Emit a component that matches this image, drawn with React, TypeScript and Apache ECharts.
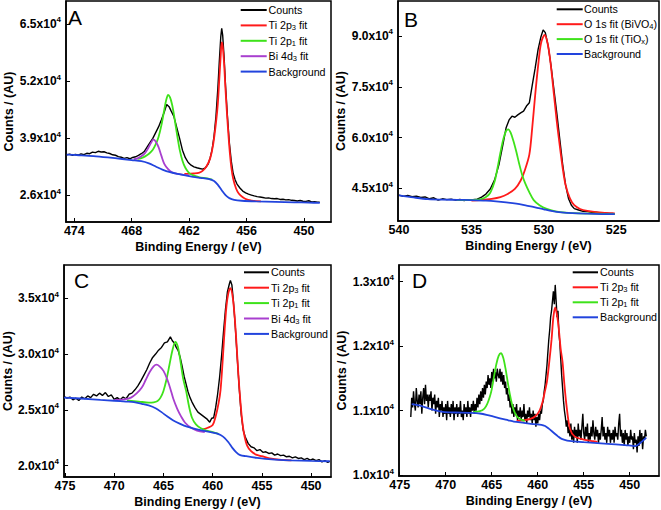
import React, { useEffect, useRef } from 'react';
import * as echarts from 'echarts';

const FONT = 'Arial, "Liberation Sans", Helvetica, sans-serif';
const C_COUNTS = '#000000';
const C_P3 = '#ff1a1a';
const C_P1 = '#3ee21a';
const C_BI = '#a83fcf';
const C_BG = '#2244dd';

// ---------- tick values ----------
const xTicksA = [474, 468, 462, 456, 450];
const yTicksA = [26000, 39000, 52000, 65000];
const xTicksB = [540, 535, 530, 525];
const yTicksB = [45000, 60000, 75000, 90000];
const xTicksC = [475, 470, 465, 460, 455, 450];
const yTicksC = [20000, 25000, 30000, 35000];
const xTicksD = [475, 470, 465, 460, 455, 450];
const yTicksD = [10000, 11000, 12000, 13000];

// ---------- legend entries ----------
const legendA = ['Counts', 'Ti 2p3 fit', 'Ti 2p1 fit', 'Bi 4d3 fit', 'Background'];
const legendB = ['Counts', 'O 1s fit (BiVO4)', 'O 1s fit (TiOx)', 'Background'];
const legendC = ['Counts', 'Ti 2p3 fit', 'Ti 2p1 fit', 'Bi 4d3 fit', 'Background'];
const legendD = ['Counts', 'Ti 2p3 fit', 'Ti 2p1 fit', 'Background'];

// ---------- Panel A ----------
const countsA = [[474.8,35250],[474.5,35400],[474.2,35150],[473.9,35350],[473.6,35200],[473.3,35450],[473.0,35300],[472.7,35600],[472.4,35500],[472.1,35850],[471.8,35750],[471.5,36050],[471.2,35900],[470.9,35950],[470.6,35700],[470.3,35550],[470.0,35250],[469.7,35150],[469.4,34850],[469.1,34700],[468.8,34450],[468.5,34600],[468.2,34350],[467.9,34650],[467.6,34800],[467.3,35100],[467.0,35500],[466.7,36000],[466.4,37000],[466.1,38000],[465.8,39000],[465.5,40300],[465.2,41600],[464.9,43200],[464.6,45000],[464.35,46700],[464.1,46200],[463.9,45300],[463.6,44000],[463.3,41500],[463.0,39000],[462.7,36300],[462.4,34600],[462.1,33500],[461.8,32900],[461.5,32500],[461.2,32300],[460.9,32150],[460.6,32000],[460.3,32300],[460.0,33200],[459.8,34600],[459.6,36500],[459.4,39500],[459.2,44000],[459.0,50500],[458.85,56500],[458.7,62000],[458.6,64000],[458.5,62500],[458.35,57500],[458.2,51000],[458.0,44000],[457.8,38000],[457.6,33800],[457.4,31000],[457.2,29600],[457.0,28600],[456.7,27700],[456.4,27000],[456.1,26600],[455.8,26300],[455.5,26100],[455.2,25900],[454.9,25750],[454.6,25650],[454.3,25550],[454.0,25400],[453.7,25450],[453.4,25300],[453.1,25250],[452.8,25300],[452.5,25100],[452.2,25150],[451.9,25000],[451.6,25050],[451.3,24900],[451.0,24850],[450.7,24750],[450.4,24850],[450.1,24700],[449.8,24650],[449.5,24800],[449.2,24550],[448.9,24600],[448.6,24450],[448.35,24500]];
const ti2p3A = [[462.5,30900],[462.0,30950],[461.5,31000],[461.0,31150],[460.6,31600],[460.2,32600],[459.8,34500],[459.5,37500],[459.2,42500],[459.0,47000],[458.85,52500],[458.7,58000],[458.6,60800],[458.5,60000],[458.35,56000],[458.2,50000],[458.0,43000],[457.8,37000],[457.6,32500],[457.4,29800],[457.1,27600],[456.8,26400],[456.4,25600],[456.0,25100],[455.5,24850],[455.0,24700],[454.5,24650]];
const ti2p1A = [[467.4,34300],[467.0,34500],[466.6,34900],[466.2,35500],[465.8,36400],[465.5,37600],[465.2,39300],[464.9,42000],[464.6,45500],[464.4,47700],[464.2,48900],[464.0,48300],[463.8,46800],[463.6,44500],[463.4,41700],[463.2,39000],[463.0,36500],[462.7,33900],[462.4,32300],[462.0,31100],[461.5,30500],[461.0,30200],[460.5,30000],[460.0,29850],[459.6,29600]];
const bi4dA = [[467.8,34250],[467.4,34450],[467.0,34900],[466.6,35700],[466.3,36700],[466.0,37900],[465.75,38700],[465.5,38300],[465.2,37000],[464.9,35000],[464.6,33200],[464.2,32000],[463.8,31300],[463.2,30900],[462.6,30700],[462.0,30550]];
const bgA = [[474.8,35300],[473.5,35150],[472.0,34950],[470.5,34650],[469.0,34300],[468.0,34050],[467.0,33800],[466.2,33300],[465.5,32600],[464.8,31900],[464.0,31300],[463.2,30900],[462.4,30550],[461.6,30250],[460.8,30000],[460.0,29750],[459.4,29300],[459.0,28400],[458.6,27200],[458.2,26100],[457.8,25400],[457.3,25000],[456.5,24800],[455.0,24650],[453.0,24550],[451.0,24450],[449.5,24380],[448.35,24300]];

// ---------- Panel B ----------
const countsB = [[540.0,43000],[539.7,42600],[539.4,42900],[539.1,42500],[538.8,42700],[538.5,42300],[538.2,42450],[537.9,41900],[537.6,42200],[537.3,41500],[537.0,41900],[536.7,41650],[536.4,41800],[536.1,41500],[535.8,41700],[535.5,41400],[535.2,41650],[534.9,41600],[534.6,41800],[534.3,42400],[534.0,43300],[533.7,44800],[533.4,47500],[533.1,52000],[532.8,58500],[532.6,63000],[532.4,65200],[532.2,66300],[532.0,66000],[531.8,66700],[531.6,67300],[531.4,67800],[531.2,69300],[531.0,70300],[530.8,75500],[530.6,80500],[530.4,86000],[530.2,89800],[530.05,91800],[529.9,91000],[529.7,87000],[529.5,81000],[529.3,74000],[529.1,67000],[528.9,59500],[528.7,52000],[528.5,46000],[528.3,42000],[528.1,40000],[527.9,39000],[527.6,38600],[527.3,38200],[527.0,38150],[526.7,37900],[526.4,37950],[526.1,37700],[525.8,37750],[525.5,37600],[525.2,37600]];
const o1sBiVO4B = [[535.0,41400],[534.4,41550],[533.6,41900],[533.0,42400],[532.5,43300],[532.0,44800],[531.6,47300],[531.3,50500],[531.0,55000],[530.8,63000],[530.6,72500],[530.4,81000],[530.2,87800],[529.95,90300],[529.75,88000],[529.55,82500],[529.3,72500],[529.1,64500],[528.9,57500],[528.7,51000],[528.5,46000],[528.2,42000],[527.9,40000],[527.5,38900],[527.0,38300],[526.4,37950],[525.8,37750],[525.1,37600]];
const o1sTiOxB = [[536.0,41500],[535.0,41550],[534.4,41700],[534.0,42400],[533.7,43700],[533.4,47000],[533.2,51000],[533.0,55500],[532.8,59500],[532.6,62000],[532.45,62400],[532.3,61500],[532.1,59000],[531.9,55800],[531.7,52200],[531.5,49000],[531.3,46600],[531.0,43800],[530.7,41500],[530.3,40000],[529.8,38900],[529.2,38200],[528.5,37800],[527.5,37600],[525.1,37400]];
const bgB = [[540.0,42900],[539.0,42300],[538.0,41800],[537.0,41650],[536.0,41600],[535.0,41500],[534.0,41350],[533.3,41150],[532.6,40850],[531.9,40450],[531.2,39900],[530.6,39400],[530.0,38800],[529.4,38250],[528.8,37900],[528.0,37650],[527.0,37500],[526.0,37400],[525.1,37350]];

// ---------- Panel C ----------
const countsC = [[475.1,26200],[474.8,26050],[474.5,26150],[474.2,25900],[473.9,26050],[473.6,25850],[473.3,26150],[473.0,26000],[472.7,26250],[472.4,26100],[472.1,26400],[471.8,26250],[471.5,26500],[471.2,26300],[470.9,26550],[470.6,26200],[470.3,26350],[470.0,25950],[469.7,26100],[469.4,25900],[469.1,26150],[468.8,26000],[468.5,26400],[468.2,26500],[467.9,26800],[467.6,27150],[467.3,27600],[467.0,28100],[466.7,28600],[466.4,29200],[466.1,29700],[465.8,30000],[465.5,30350],[465.2,30600],[464.9,31000],[464.6,31100],[464.3,31550],[464.1,31200],[463.9,31000],[463.7,30600],[463.5,30300],[463.3,29700],[463.1,28900],[462.9,28000],[462.7,27300],[462.5,26600],[462.3,26100],[462.1,25700],[461.8,25200],[461.5,24800],[461.2,24600],[460.9,24400],[460.6,24200],[460.3,23900],[460.1,24250],[459.9,24300],[459.7,25200],[459.5,26400],[459.3,27900],[459.1,29800],[458.9,32000],[458.7,34000],[458.5,35600],[458.3,36300],[458.2,36600],[458.05,36200],[457.9,34800],[457.7,32400],[457.5,29600],[457.3,26900],[457.1,24600],[456.9,23200],[456.7,22600],[456.4,22000],[456.1,21700],[455.8,21600],[455.5,21350],[455.2,21450],[454.9,21200],[454.6,21250],[454.3,21100],[454.0,21150],[453.7,20950],[453.4,21050],[453.1,20900],[452.8,20950],[452.5,20800],[452.2,20850],[451.9,20700],[451.6,20800],[451.3,20650],[451.0,20700],[450.7,20550],[450.4,20650],[450.1,20500],[449.8,20600],[449.5,20450],[449.2,20550],[448.9,20350],[448.6,20450],[448.3,20300],[448.1,20400]];
const ti2p3C = [[461.0,23250],[460.5,23400],[460.0,23650],[459.7,24400],[459.4,25600],[459.2,26800],[459.0,29200],[458.8,32000],[458.6,34300],[458.4,35500],[458.2,35900],[458.0,35300],[457.8,33700],[457.6,31200],[457.4,28300],[457.2,25900],[457.0,24000],[456.8,22800],[456.5,21800],[456.1,21300],[455.6,21000],[455.0,20850],[454.2,20650],[453.0,20520],[452.0,20480]];
const ti2p1C = [[468.7,25850],[467.5,25750],[466.5,25650],[466.0,25680],[465.6,25800],[465.3,26100],[465.0,26700],[464.7,27700],[464.4,29000],[464.1,30300],[463.8,31100],[463.55,30700],[463.3,29500],[463.0,27800],[462.7,26700],[462.4,25300],[462.1,24300],[461.7,23700],[461.2,23350],[460.6,23150],[460.0,23000],[459.4,22850]];
const bi4dC = [[470.0,25900],[469.0,25950],[468.3,26100],[467.7,26500],[467.2,27000],[466.8,27700],[466.4,28400],[466.0,28900],[465.7,29050],[465.4,28900],[465.0,28500],[464.6,27700],[464.3,26900],[464.0,26000],[463.6,25100],[463.2,24400],[462.8,23850],[462.2,23400],[461.6,23150],[460.8,23000]];
const bgC = [[475.1,26100],[473.0,26000],[471.4,25900],[470.0,25820],[468.8,25750],[468.0,25700],[467.2,25550],[466.5,25400],[465.8,25150],[465.2,24800],[464.6,24400],[464.0,24050],[463.3,23750],[462.6,23500],[461.8,23300],[461.0,23150],[460.2,23000],[459.6,22900],[459.2,22750],[458.8,22500],[458.4,22100],[458.0,21600],[457.6,21200],[457.2,20950],[456.6,20850],[455.5,20700],[454.0,20560],[452.0,20480],[450.0,20430],[448.1,20400]];

// ---------- Panel D ----------
const countsD = [[473.8,10900],[473.7,11200],[473.6,11050],[473.5,11300],[473.4,11100],[473.3,11000],[473.2,11350],[473.1,11150],[473.0,11050],[472.9,11250],[472.8,11100],[472.7,11300],[472.6,10950],[472.5,11200],[472.4,11350],[472.3,11100],[472.2,11400],[472.1,11150],[472.0,11250],[471.9,11050],[471.8,11250],[471.7,11150],[471.6,11300],[471.5,11000],[471.4,11200],[471.3,11100],[471.2,11250],[471.1,10950],[471.0,11150],[470.9,11050],[470.8,11200],[470.7,10900],[470.6,11100],[470.5,11000],[470.4,11150],[470.3,10900],[470.2,11050],[470.1,10950],[470.0,11100],[469.9,10850],[469.8,11150],[469.7,10950],[469.6,11050],[469.5,10900],[469.4,11100],[469.3,10950],[469.2,11150],[469.1,10850],[469.0,11050],[468.9,10950],[468.8,11100],[468.7,10900],[468.6,11050],[468.5,10950],[468.4,11150],[468.3,10900],[468.2,11000],[468.1,10850],[468.0,11100],[467.9,10950],[467.8,11050],[467.7,10900],[467.6,11150],[467.5,10950],[467.4,11050],[467.3,10900],[467.2,11100],[467.1,11000],[467.0,11150],[466.9,10950],[466.8,11100],[466.7,11000],[466.6,11200],[466.5,11050],[466.4,11250],[466.3,11100],[466.2,11300],[466.1,11150],[466.0,11350],[465.9,11200],[465.8,11400],[465.7,11250],[465.6,11450],[465.5,11350],[465.4,11550],[465.3,11400],[465.2,11500],[465.1,11350],[465.0,11600],[464.9,11450],[464.8,11650],[464.7,11500],[464.6,11600],[464.5,11450],[464.4,11650],[464.3,11550],[464.2,11500],[464.1,11650],[464.0,11450],[463.9,11600],[463.8,11400],[463.7,11550],[463.6,11350],[463.5,11450],[463.4,11250],[463.3,11350],[463.2,11150],[463.1,11250],[463.0,11050],[462.9,11150],[462.8,10950],[462.7,11100],[462.6,10900],[462.5,11050],[462.4,10950],[462.3,11100],[462.2,10850],[462.1,11000],[462.0,10900],[461.9,11050],[461.8,10850],[461.7,11000],[461.6,10900],[461.5,11100],[461.4,10850],[461.3,10950],[461.2,10800],[461.1,11000],[461.0,10900],[460.9,11050],[460.8,10850],[460.7,10950],[460.6,10800],[460.5,11000],[460.4,10850],[460.3,10950],[460.2,10750],[460.1,10900],[460.0,10800],[459.9,10950],[459.8,10850],[459.7,11000],[459.6,10950],[459.5,11100],[459.4,11150],[459.3,11300],[459.2,11400],[459.1,11550],[459.0,11700],[458.9,11900],[458.8,12100],[458.7,12250],[458.6,12450],[458.5,12550],[458.4,12700],[458.3,12850],[458.2,12650],[458.1,12950],[458.0,12700],[457.9,12450],[457.8,12550],[457.7,12200],[457.6,12050],[457.5,11800],[457.4,11550],[457.3,11350],[457.2,11150],[457.1,11000],[457.0,10900],[456.9,10750],[456.8,10850],[456.7,10650],[456.6,10750],[456.5,10600],[456.4,10800],[456.3,10550],[456.2,10700],[456.1,10500],[456.0,10750],[455.9,10600],[455.8,10700],[455.7,10500],[455.6,10800],[455.5,10600],[455.4,10700],[455.3,10550],[455.2,10750],[455.1,10950],[455.0,10650],[454.9,10550],[454.8,10750],[454.7,10600],[454.6,10800],[454.5,10500],[454.4,10650],[454.3,10550],[454.2,10750],[454.1,10600],[454.0,10850],[453.9,10650],[453.8,10550],[453.7,10750],[453.6,10600],[453.5,10700],[453.4,10500],[453.3,10650],[453.2,10550],[453.1,10700],[453.0,10900],[452.9,10600],[452.8,10750],[452.7,10550],[452.6,10650],[452.5,10500],[452.4,10750],[452.3,10600],[452.2,10700],[452.1,10500],[452.0,10650],[451.9,10550],[451.8,10700],[451.7,10500],[451.6,10750],[451.5,10600],[451.4,10650],[451.3,10550],[451.2,10800],[451.1,10950],[451.0,10600],[450.9,10700],[450.8,10500],[450.7,10650],[450.6,10450],[450.5,10700],[450.4,10550],[450.3,10650],[450.2,10450],[450.1,10600],[450.0,10500],[449.9,10700],[449.8,10550],[449.7,10600],[449.6,10400],[449.5,10650],[449.4,10500],[449.3,10550],[449.2,10350],[449.1,10600],[449.0,10450],[448.9,10700],[448.8,10500],[448.7,10650],[448.6,10400],[448.5,10600],[448.4,10550],[448.3,10700],[448.2,10600]];
const ti2p3D = [[462.3,10840],[461.5,10850],[460.8,10870],[460.2,10920],[459.8,11000],[459.5,11120],[459.25,11280],[459.0,11450],[458.75,11750],[458.5,12100],[458.3,12450],[458.1,12600],[457.9,12480],[457.7,12250],[457.5,11950],[457.3,11750],[457.1,11400],[456.85,11050],[456.5,10720],[456.0,10600],[455.0,10550],[454.0,10525],[453.5,10515]];
const ti2p1D = [[467.0,10980],[466.3,10990],[465.8,11030],[465.5,11100],[465.2,11220],[465.0,11330],[464.75,11530],[464.5,11720],[464.25,11850],[464.0,11890],[463.75,11820],[463.5,11650],[463.25,11430],[463.0,11230],[462.75,11070],[462.5,10970],[462.2,10900],[461.8,10860],[461.4,10840]];
const bgD = [[473.7,11100],[472.6,11070],[471.5,11020],[470.3,10980],[469.0,10970],[467.5,10965],[466.3,10955],[465.2,10920],[464.1,10880],[463.2,10850],[462.6,10830],[461.5,10810],[460.5,10790],[459.6,10780],[459.2,10760],[458.8,10720],[458.3,10660],[457.8,10600],[457.4,10560],[456.8,10535],[456.3,10525],[455.0,10510],[453.5,10495],[452.0,10480],[450.5,10465],[449.4,10450],[449.0,10480],[448.6,10530],[448.2,10580]];

const LEGEND_RICH: Record<string, string> = {
  'Counts': '{t|Counts}',
  'Ti 2p3 fit': '{t|Ti 2p}{s|3}{t| fit}',
  'Ti 2p1 fit': '{t|Ti 2p}{s|1}{t| fit}',
  'Bi 4d3 fit': '{t|Bi 4d}{s|3}{t| fit}',
  'Background': '{t|Background}',
  'O 1s fit (BiVO4)': '{t|O 1s fit (BiVO}{s|4}{t|)}',
  'O 1s fit (TiOx)': '{t|O 1s fit (TiO}{s|x}{t|)}',
};
const LEGEND_COLOR: Record<string, string> = {
  'Counts': C_COUNTS, 'Ti 2p3 fit': C_P3, 'Ti 2p1 fit': C_P1, 'Bi 4d3 fit': C_BI,
  'Background': C_BG, 'O 1s fit (BiVO4)': C_P3, 'O 1s fit (TiOx)': C_P1,
};

function xAx(gi: number, min: number, max: number, ticks: number[], showTicks = true) {
  return {
    type: 'value', gridIndex: gi, min, max, inverse: true, position: 'bottom',
    name: 'Binding Energy / (eV)', nameLocation: 'middle', nameGap: 18,
    nameTextStyle: { fontFamily: FONT, fontSize: 12.5, fontWeight: 'bold', color: '#000' },
    axisLine: { onZero: false, lineStyle: { color: '#000', width: 1.5 } },
    axisTick: { show: showTicks, inside: true, length: 4, customValues: ticks, lineStyle: { color: '#000', width: 1 } },
    axisLabel: { customValues: ticks, margin: 2, fontFamily: FONT, fontSize: 12.5, fontWeight: 'bold', color: '#000', formatter: (v: number) => String(v) },
    splitLine: { show: false },
  };
}

function yAx(gi: number, min: number, max: number, ticks: number[], nameGap: number) {
  return {
    type: 'value', gridIndex: gi, min, max, position: 'left',
    name: 'Counts / (AU)', nameLocation: 'middle', nameGap,
    nameTextStyle: { fontFamily: FONT, fontSize: 12.5, fontWeight: 'bold', color: '#000' },
    axisLine: { onZero: false, lineStyle: { color: '#000', width: 1.5 } },
    axisTick: { show: true, inside: true, length: 4, customValues: ticks, lineStyle: { color: '#000', width: 1 } },
    axisLabel: {
      customValues: ticks, margin: 5, color: '#000',
      formatter: (v: number) => `{n|${(v / 10000).toFixed(1)}x10}{p|4}`,
      rich: {
        n: { fontFamily: FONT, fontSize: 12, fontWeight: 'bold', color: '#000' },
        p: { fontFamily: FONT, fontSize: 8, fontWeight: 'bold', color: '#000', padding: [0, 0, 8, 0] },
      },
    },
    splitLine: { show: false },
  };
}

function line(name: string, data: number[][], color: string, idx: number, fit: boolean) {
  return {
    type: 'line', name, data, xAxisIndex: idx, yAxisIndex: idx,
    symbol: 'none', showSymbol: false, smooth: fit ? 0.3 : false,
    lineStyle: { color, width: fit ? 1.8 : 1.4 },
    itemStyle: { color },
    silent: true, z: 2,
  };
}

// legend drawn as graphic line + rich text per row
function legendG(x1: number, x2: number, tx: number, y0: number, dy: number, names: string[]) {
  const els: any[] = [];
  names.forEach((n, i) => {
    const y = y0 + i * dy;
    els.push({ type: 'line', shape: { x1, y1: y, x2, y2: y }, style: { stroke: LEGEND_COLOR[n], lineWidth: 2 }, silent: true });
    els.push({
      type: 'text', x: tx, y, silent: true,
      style: {
        text: LEGEND_RICH[n], fontFamily: FONT, fontSize: 10.7, fill: '#000', verticalAlign: 'middle', align: 'left',
        rich: {
          t: { fontFamily: FONT, fontSize: 10.7, fill: '#000', lineHeight: 13 },
          s: { fontFamily: FONT, fontSize: 7.5, fill: '#000', padding: [5, 0, 0, 0] },
        },
      },
    });
  });
  return els;
}

const gridBase = { show: true, borderColor: '#000', borderWidth: 1.5, backgroundColor: 'transparent', containLabel: false };

const letterStyle = { fontSize: 21, fontFamily: FONT, fill: '#000', verticalAlign: 'middle', align: 'left' };

const option = {
  animation: false,
  backgroundColor: '#fff',
  grid: [
    { ...gridBase, left: 66, top: 1, width: 265, height: 221 },
    { ...gridBase, left: 398, top: 1, width: 261, height: 220 },
    { ...gridBase, left: 63, top: 265, width: 268, height: 212 },
    { ...gridBase, left: 399, top: 265, width: 260, height: 211 },
  ],
  xAxis: [
    xAx(0, 447.18, 474.87, xTicksA),
    xAx(1, 522.05, 540.07, xTicksB, false),
    xAx(2, 447.98, 475.1, xTicksC),
    xAx(3, 446.82, 475.08, xTicksD),
  ],
  yAxis: [
    yAx(0, 19970, 70230, yTicksA, 50),
    yAx(1, 35340, 100340, yTicksB, 50),
    yAx(2, 18990, 37980, yTicksC, 45),
    yAx(3, 9985, 13259, yTicksD, 45),
  ],
  graphic: [
    { type: 'text', x: 68, y: 17.5, style: { text: 'A', ...letterStyle } },
    { type: 'text', x: 404, y: 19.5, style: { text: 'B', ...letterStyle } },
    { type: 'text', x: 74, y: 280.5, style: { text: 'C', ...letterStyle } },
    { type: 'text', x: 412, y: 280.5, style: { text: 'D', ...letterStyle } },
    ...legendG(240.7, 266.7, 268.5, 10, 15.4, legendA),
    ...legendG(556.7, 582.7, 584, 9.3, 14.9, legendB),
    ...legendG(244, 269, 271, 272.3, 15.4, legendC),
    ...legendG(572.7, 598, 600, 272.3, 15, legendD),
  ],
  series: [
    line('Counts', countsA, C_COUNTS, 0, false),
    line('Ti 2p3 fit', ti2p3A, C_P3, 0, true),
    line('Ti 2p1 fit', ti2p1A, C_P1, 0, true),
    line('Bi 4d3 fit', bi4dA, C_BI, 0, true),
    line('Background', bgA, C_BG, 0, true),

    line('Counts', countsB, C_COUNTS, 1, false),
    line('O 1s fit (BiVO4)', o1sBiVO4B, C_P3, 1, true),
    line('O 1s fit (TiOx)', o1sTiOxB, C_P1, 1, true),
    line('Background', bgB, C_BG, 1, true),

    line('Counts', countsC, C_COUNTS, 2, false),
    line('Ti 2p3 fit', ti2p3C, C_P3, 2, true),
    line('Ti 2p1 fit', ti2p1C, C_P1, 2, true),
    line('Bi 4d3 fit', bi4dC, C_BI, 2, true),
    line('Background', bgC, C_BG, 2, true),

    line('Counts', countsD, C_COUNTS, 3, false),
    line('Ti 2p3 fit', ti2p3D, C_P3, 3, true),
    line('Ti 2p1 fit', ti2p1D, C_P1, 3, true),
    line('Background', bgD, C_BG, 3, true),
  ],
};

export default function App() {
  const ref = useRef<HTMLDivElement>(null);
  useEffect(() => {
    document.body.style.margin = '0';
    const chart = echarts.init(ref.current as HTMLDivElement, null, { renderer: 'svg' });
    chart.setOption(option as any);
    return () => chart.dispose();
  }, []);
  return <div ref={ref} style={{ width: 661, height: 510 }} />;
}
